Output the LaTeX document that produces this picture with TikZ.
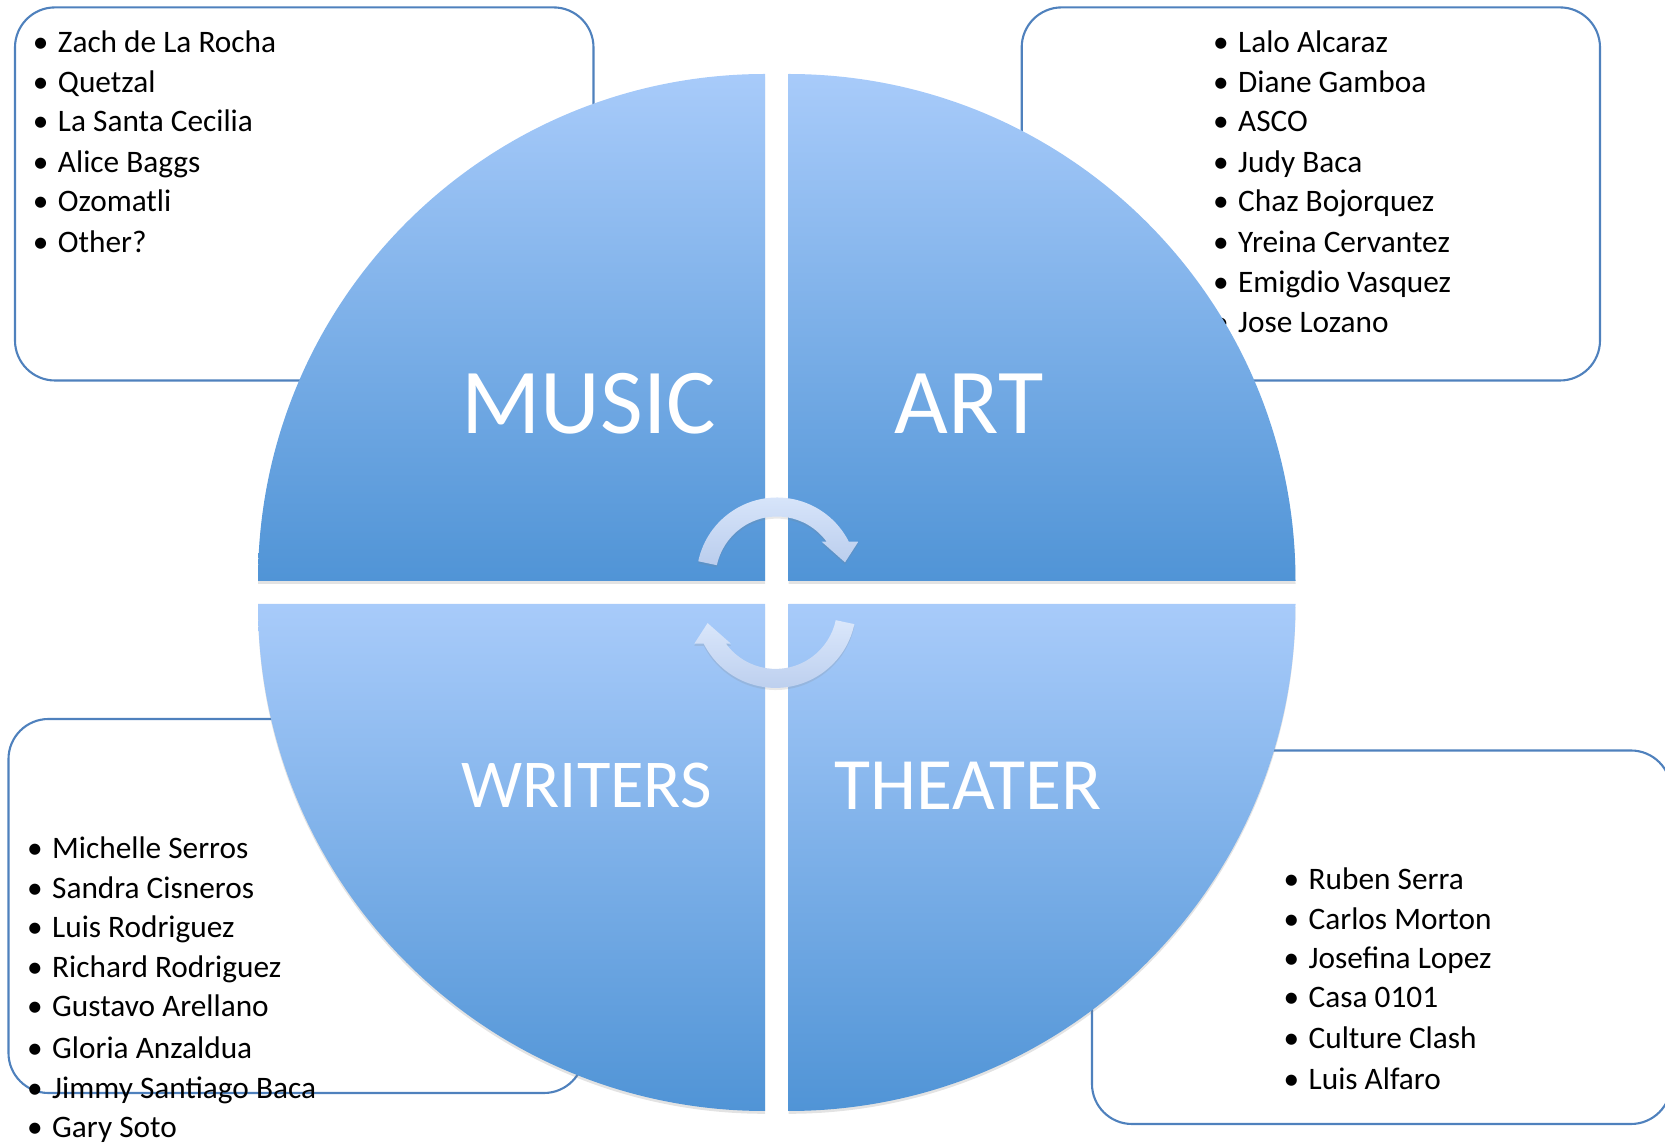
\documentclass[tikz,border=0pt]{standalone}
\usepackage{fontspec}
\setmainfont{Carlito}
\usetikzlibrary{shadows}

\definecolor{boxline}{RGB}{79,129,189}
\definecolor{quadtop}{RGB}{168,203,250}
\definecolor{quadbot}{RGB}{80,148,214}
\definecolor{turntop}{RGB}{218,231,251}
\definecolor{turnbot}{RGB}{186,205,237}

\newcommand{\li}[1]{\llap{•\hspace{2.7pt}}#1}

\tikzset{
  listbox/.style={draw=boxline,line width=0.6pt,rounded corners=0.4cm},
  entry/.style={anchor=base west,inner sep=0pt,font=\fontsize{8.9}{10}\selectfont},
  quarter/.style={top color=quadtop,bottom color=quadbot,
    drop shadow={opacity=0.22,shadow xshift=0pt,shadow yshift=-0.8pt}},
  biglabel/.style={anchor=base,inner sep=0pt,text=white},
  turn/.style={top color=turntop,bottom color=turnbot,
    drop shadow={opacity=0.18,shadow xshift=0pt,shadow yshift=-0.6pt}}
}

\begin{document}
\begin{tikzpicture}[x=0.01cm,y=-0.01cm]
  \useasboundingbox (0,0) rectangle (1665,1143) ;
  % boxes with the names
  \draw[listbox] (15,7.4) rectangle (593.5,380.5) ;
  \draw[listbox] (1021.7,7.4) rectangle (1600,380.5) ;
  \draw[listbox] (8.5,719) rectangle (584,1093) ;
  \draw[listbox] (1092,750.5) rectangle (1671,1124) ;
  \foreach \t/\y [count=\i] in {Zach de La Rocha/52.5,Quetzal/92.5,
      La Santa Cecilia/131.8,Alice Baggs/172.2,Ozomatli/211.5,Other?/253}
    \node[entry] (music-\i) at (57.3,\y) {\li{\t}} ;
  \foreach \t/\y [count=\i] in {Lalo Alcaraz/52.5,Diane Gamboa/92.5,ASCO/131.8,
      Judy Baca/172.2,Chaz Bojorquez/211.5,Yreina Cervantez/253,
      Emigdio Vasquez/292.3,Jose Lozano/332.6}
    \node[entry] (art-\i) at (1237.5,\y) {\li{\t}} ;
  \foreach \t/\y [count=\i] in {Michelle Serros/858.3,Sandra Cisneros/898.6,
      Luis Rodriguez/937.9,Richard Rodriguez/977.3,Gustavo Arellano/1016.5,
      Gloria Anzaldua/1059,Jimmy Santiago Baca/1098.3,Gary Soto/1137.5}
    \node[entry] (writers-\i) at (51.5,\y) {\li{\t}} ;
  \foreach \t/\y [count=\i] in {Ruben Serra/890,Carlos Morton/929.3,
      Josefina Lopez/968.7,Casa 0101/1008,Culture Clash/1048.3,
      Luis Alfaro/1089.7}
    \node[entry] (theater-\i) at (1308,\y) {\li{\t}} ;
  % the four quarters
  \path[quarter] (765,581) -- (258,581)
    arc[start angle=180,end angle=270,radius=507] -- cycle ;
  \path[quarter] (788.5,581) -- (788.5,74)
    arc[start angle=270,end angle=360,radius=507] -- cycle ;
  \path[quarter] (765,604) -- (765,1111)
    arc[start angle=90,end angle=180,radius=507] -- cycle ;
  \path[quarter] (788.5,604) -- (1295.5,604)
    arc[start angle=0,end angle=90,radius=507] -- cycle ;
  \node[biglabel,font=\fontsize{26.4}{30}\selectfont] (music) at (588.8,433.6) {MUSIC} ;
  \node[biglabel,font=\fontsize{26.4}{30}\selectfont] (art) at (969,433.6) {ART} ;
  \node[biglabel,font=\fontsize{19.5}{23}\selectfont] (writers) at (586.7,807.5) {WRITERS} ;
  \node[biglabel,font=\fontsize{21}{25}\selectfont] (theater) at (968,809.5) {THEATER} ;
  % turning arrows in the middle
  \foreach \r in {0,180}
    \path[turn,rotate around={\r:(776.3,592.7)},shift={(777,578)}]
      (192:80.5) arc[start angle=192,end angle=333.2,radius=80.5]
      -- (81.3,-36.3) -- (68,-15.7) -- (44.7,-36.3)
      -- (323.8:61.5) arc[start angle=323.8,end angle=192,radius=61.5] -- cycle ;
\end{tikzpicture}
\end{document}
